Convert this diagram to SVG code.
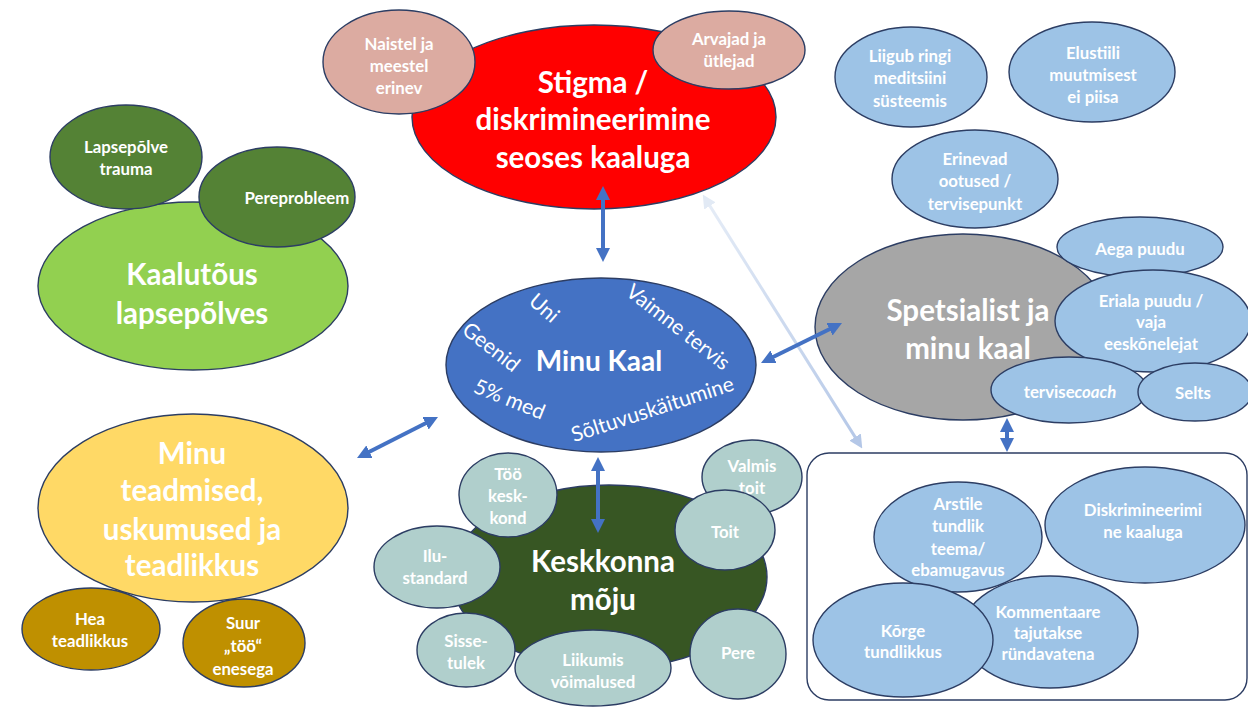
<svg xmlns="http://www.w3.org/2000/svg" width="1248" height="707" viewBox="0 0 1248 707">
<defs>
<style>
.e{stroke:#2c3d63;stroke-width:1.4}
.t{font-family:Lato,"Open Sans","Liberation Sans",sans-serif;font-weight:bold;fill:#fff;text-anchor:middle;dominant-baseline:central}
.s{font-size:16.8px}
.b{font-size:29.5px}
.r{font-size:21px;font-weight:normal}
.red{fill:#ff0000}.pink{fill:#dcaba1}.lg{fill:#92d050}.dg{fill:#548235}.yl{fill:#ffd966}.gd{fill:#bf9000}
.bl{fill:#4472c4}.kg{fill:#375623}.tl{fill:#b0cfcc}.gr{fill:#a6a6a6}.lb{fill:#9dc3e6}
.arr{stroke:#4472c4;stroke-width:4;fill:none;marker-start:url(#ah);marker-end:url(#ah)}
</style>
<marker id="ah" viewBox="0 0 10 10" refX="6" refY="5" markerWidth="3.5" markerHeight="3.5" orient="auto-start-reverse"><path d="M0,0 L10,5 L0,10 z" fill="#4472c4"/></marker>
<marker id="lhs" viewBox="0 0 10 10" refX="6" refY="5" markerWidth="4.5" markerHeight="4.5" orient="auto-start-reverse"><path d="M0,0 L10,5 L0,10 z" fill="#e2eaf5"/></marker>
<marker id="lhe" viewBox="0 0 10 10" refX="6" refY="5" markerWidth="4.5" markerHeight="4.5" orient="auto"><path d="M0,0 L10,5 L0,10 z" fill="#b4c7e7"/></marker>
<linearGradient id="lg1" x1="0" y1="0" x2="1" y2="1"><stop offset="0" stop-color="#e6edf7"/><stop offset="1" stop-color="#b4c7e7"/></linearGradient>
</defs>

<g id="connectors">
<line x1="705.6" y1="199.1" x2="859.4" y2="443.9" stroke="url(#lg1)" stroke-width="3" marker-start="url(#lhs)" marker-end="url(#lhe)"/>
</g>

<g id="stigma">
<ellipse class="e red" cx="594" cy="117" rx="182" ry="92"/>
<text class="t b" x="593" y="81">Stigma /</text>
<text class="t b" x="593" y="118">diskrimineerimine</text>
<text class="t b" x="593" y="156">seoses kaaluga</text>
</g>
<g id="naistel">
<ellipse class="e pink" cx="399" cy="62" rx="76" ry="52"/>
<text class="t s" x="399" y="43">Naistel ja</text>
<text class="t s" x="399" y="65">meestel</text>
<text class="t s" x="399" y="87">erinev</text>
</g>
<g id="arvajad">
<ellipse class="e pink" cx="729" cy="50" rx="76" ry="39"/>
<text class="t s" x="729" y="38">Arvajad ja</text>
<text class="t s" x="729" y="60">ütlejad</text>
</g>

<g id="kaalutous">
<ellipse class="e lg" cx="193" cy="286" rx="155" ry="84"/>
<text class="t b" x="192" y="273">Kaalutõus</text>
<text class="t b" x="192" y="312">lapsepõlves</text>
</g>
<g id="lapsepolve-trauma">
<ellipse class="e dg" cx="126" cy="157" rx="76" ry="52"/>
<text class="t s" x="126" y="146">Lapsepõlve</text>
<text class="t s" x="126" y="168">trauma</text>
</g>
<g id="pereprobleem">
<ellipse class="e dg" cx="277" cy="197" rx="78" ry="50"/>
<text class="t s" x="297" y="197">Pereprobleem</text>
</g>

<g id="teadmised">
<ellipse class="e yl" cx="193" cy="508" rx="155" ry="94"/>
<text class="t b" x="192" y="452">Minu</text>
<text class="t b" x="192" y="489">teadmised,</text>
<text class="t b" x="192" y="528">uskumused ja</text>
<text class="t b" x="192" y="564">teadlikkus</text>
</g>
<g id="hea-teadlikkus">
<ellipse class="e gd" cx="91" cy="629" rx="69" ry="41"/>
<text class="t s" x="90" y="618">Hea</text>
<text class="t s" x="90" y="640">teadlikkus</text>
</g>
<g id="suur-too">
<ellipse class="e gd" cx="244" cy="643" rx="61" ry="44"/>
<text class="t s" x="243" y="622">Suur</text>
<text class="t s" x="243" y="645">„töö“</text>
<text class="t s" x="243" y="668">enesega</text>
</g>

<g id="minu-kaal">
<ellipse class="e bl" cx="601" cy="365" rx="155" ry="87"/>
<text class="t" style="font-size:28px" x="599" y="360">Minu Kaal</text>
<text class="t r" x="0" y="0" transform="translate(545,307) rotate(41)">Uni</text>
<text class="t r" x="0" y="0" transform="translate(492,346) rotate(38)">Geenid</text>
<text class="t r" x="0" y="0" transform="translate(679,326) rotate(38)">Vaimne tervis</text>
<text class="t r" x="0" y="0" transform="translate(510,398) rotate(22)">5% med</text>
<text class="t r" x="0" y="0" transform="translate(652,408) rotate(-18)">Sõltuvuskäitumine</text>
</g>

<g id="keskkonna-moju">
<ellipse class="e kg" cx="609" cy="577" rx="158" ry="92"/>
<text class="t b" x="603" y="560">Keskkonna</text>
<text class="t b" x="603" y="598">mõju</text>
</g>
<g id="too-keskkond">
<ellipse class="e tl" cx="508" cy="495" rx="49" ry="42"/>
<text class="t s" x="508" y="473">Töö</text>
<text class="t s" x="508" y="495">kesk-</text>
<text class="t s" x="508" y="517">kond</text>
</g>
<g id="ilustandard">
<ellipse class="e tl" cx="437" cy="567" rx="63" ry="41"/>
<text class="t s" x="435" y="555">Ilu-</text>
<text class="t s" x="435" y="577">standard</text>
</g>
<g id="sissetulek">
<ellipse class="e tl" cx="466" cy="650" rx="49" ry="37"/>
<text class="t s" x="466" y="640">Sisse-</text>
<text class="t s" x="466" y="662">tulek</text>
</g>
<g id="liikumis">
<ellipse class="e tl" cx="593" cy="668" rx="78" ry="38"/>
<text class="t s" x="593" y="659">Liikumis</text>
<text class="t s" x="593" y="681">võimalused</text>
</g>
<g id="pere">
<ellipse class="e tl" cx="738" cy="654" rx="48" ry="45"/>
<text class="t s" x="738" y="652">Pere</text>
</g>
<g id="valmis-toit">
<ellipse class="e tl" cx="752" cy="477" rx="50" ry="37"/>
<text class="t s" x="752" y="465">Valmis</text>
<text class="t s" x="752" y="487">toit</text>
</g>
<g id="toit">
<ellipse class="e tl" cx="725" cy="530" rx="50" ry="40"/>
<text class="t s" x="725" y="531">Toit</text>
</g>

<g id="liigub">
<ellipse class="e lb" cx="911" cy="77" rx="76" ry="50"/>
<text class="t s" x="910" y="55">Liigub ringi</text>
<text class="t s" x="910" y="77">meditsiini</text>
<text class="t s" x="910" y="100">süsteemis</text>
</g>
<g id="elustiili">
<ellipse class="e lb" cx="1092" cy="72" rx="83" ry="50"/>
<text class="t s" x="1093" y="52">Elustiili</text>
<text class="t s" x="1093" y="74">muutmisest</text>
<text class="t s" x="1093" y="96">ei piisa</text>
</g>
<g id="erinevad">
<ellipse class="e lb" cx="975" cy="179" rx="83" ry="49"/>
<text class="t s" x="975" y="158">Erinevad</text>
<text class="t s" x="975" y="180">ootused /</text>
<text class="t s" x="975" y="203">tervisepunkt</text>
</g>

<g id="spetsialist">
<ellipse class="e gr" cx="963" cy="327" rx="148" ry="93"/>
<text class="t b" x="968" y="309">Spetsialist ja</text>
<text class="t b" x="968" y="347">minu kaal</text>
</g>
<g id="aega-puudu">
<ellipse class="e lb" cx="1140" cy="247" rx="83" ry="30"/>
<text class="t s" x="1140" y="248">Aega puudu</text>
</g>
<g id="eriala">
<ellipse class="e lb" cx="1153" cy="321" rx="98" ry="51"/>
<text class="t s" x="1151" y="300">Eriala puudu /</text>
<text class="t s" x="1151" y="321">vaja</text>
<text class="t s" x="1151" y="343">eeskõnelejat</text>
</g>
<g id="tervisecoach">
<ellipse class="e lb" cx="1069" cy="390" rx="78" ry="33"/>
<text class="t s" x="1070" y="391">tervise<tspan font-style="italic">coach</tspan></text>
</g>
<g id="selts">
<ellipse class="e lb" cx="1195" cy="392" rx="57" ry="29"/>
<text class="t s" x="1193" y="392">Selts</text>
</g>

<g id="arsti-kogemus">
<rect x="807" y="453" width="440" height="247" rx="22" fill="#fff" stroke="#2c3d63" stroke-width="1.4"/>
<g id="arstile">
<ellipse class="e lb" cx="958" cy="537" rx="84" ry="55"/>
<text class="t s" x="958" y="503">Arstile</text>
<text class="t s" x="958" y="525">tundlik</text>
<text class="t s" x="958" y="548">teema/</text>
<text class="t s" x="958" y="569">ebamugavus</text>
</g>
<g id="diskrimineerimine">
<ellipse class="e lb" cx="1145" cy="525" rx="100" ry="58"/>
<text class="t s" x="1143" y="509">Diskrimineerimi</text>
<text class="t s" x="1143" y="531">ne kaaluga</text>
</g>
<g id="kommentaare">
<ellipse class="e lb" cx="1050" cy="632" rx="88" ry="56"/>
<text class="t s" x="1048" y="611">Kommentaare</text>
<text class="t s" x="1048" y="632">tajutakse</text>
<text class="t s" x="1048" y="653">ründavatena</text>
</g>
<g id="korge">
<ellipse class="e lb" cx="903" cy="640" rx="90" ry="57"/>
<text class="t s" x="903" y="630">Kõrge</text>
<text class="t s" x="903" y="651">tundlikkus</text>
</g>
</g>

<g id="arrows">
<line class="arr" x1="603" y1="191.6" x2="603" y2="256.4"/>
<line class="arr" x1="598" y1="462.6" x2="598" y2="527.4"/>
<line class="arr" x1="362" y1="455.5" x2="433" y2="419.5"/>
<line class="arr" x1="766" y1="360.5" x2="837" y2="325.5"/>
<line class="arr" x1="1007" y1="423.6" x2="1007" y2="446.4"/>
</g>
</svg>
